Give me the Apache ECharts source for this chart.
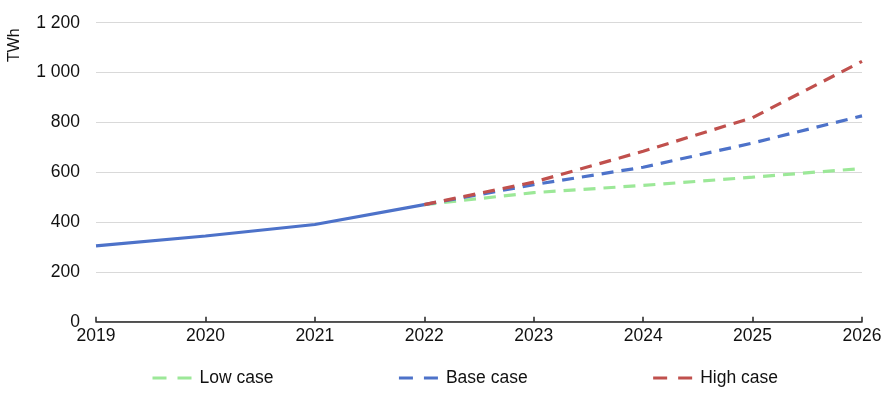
<!DOCTYPE html>
<html><head><meta charset="utf-8">
<script src="https://cdn.jsdelivr.net/npm/echarts@6/dist/echarts.min.js"></script>
<style>html,body{margin:0;padding:0;background:#fff}#c{width:890px;height:393px}</style>
</head><body><div id="c"></div>
<script>
const years = ['2019','2020','2021','2022','2023','2024','2025','2026'];
const historical = [304, 344, 390, 470, null, null, null, null];
const lowCase = [null, null, null, 470, 518, 547, 580, 615];
const baseCase = [null, null, null, 470, 550, 620, 717, 826];
const highCase = [null, null, null, 470, 560, 684, 819, 1045];
const yTicks = [0, 200, 400, 600, 800, 1000, 1200];

const chart = echarts.init(document.getElementById('c'));
const font = 'Liberation Sans, Arial, sans-serif';
const dash = [12, 8];
chart.setOption({
  animation: false,
  textStyle: {fontFamily: font},
  grid: {left: 96, right: 28, top: 22.7, bottom: 71.3},
  legend: {
    top: 364, left: 146, itemGap: 124, itemWidth: 40, itemHeight: 14,
    itemStyle: {opacity: 0},
    lineStyle: {width: 3, type: [14, 11]},
    textStyle: {fontSize: 17.5, color: '#111', fontFamily: font, padding: [0, 0, 0, 2]},
    data: ['Low case', 'Base case', 'High case']
  },
  xAxis: {
    type: 'category', data: years, boundaryGap: false,
    axisLine: {lineStyle: {color: '#222', width: 1.5}},
    axisTick: {show: true, inside: true, length: 5, lineStyle: {color: '#222', width: 1.5}},
    axisLabel: {fontSize: 17.5, color: '#111', margin: 5, fontFamily: font}
  },
  yAxis: {
    type: 'value', min: 0, max: 1200, interval: 200,
    axisLine: {show: false}, axisTick: {show: false},
    splitLine: {lineStyle: {color: '#d9d9d9', width: 1.2}},
    axisLabel: {fontSize: 17.5, color: '#111', margin: 16, fontFamily: font,
      formatter: v => yTicks.includes(v) ? String(v).replace(/\B(?=(\d{3})+(?!\d))/g, ' ') : ''}
  },
  graphic: [{type: 'text', x: 7, y: 62, rotation: Math.PI/2,
    style: {text: 'TWh', fontSize: 16, fill: '#111', fontFamily: font}}],
  series: [
    {name: 'Historical', type: 'line', data: historical, symbol: 'none', z: 1,
     lineStyle: {color: '#4d72c9', width: 3.2}, itemStyle: {color: '#4d72c9'}},
    {name: 'Low case', type: 'line', data: lowCase, symbol: 'none', z: 2,
     lineStyle: {color: '#9ce898', width: 3.2, type: dash}, itemStyle: {color: '#9ce898'}},
    {name: 'Base case', type: 'line', data: baseCase, symbol: 'none', z: 3,
     lineStyle: {color: '#4d72c9', width: 3.2, type: dash}, itemStyle: {color: '#4d72c9'}},
    {name: 'High case', type: 'line', data: highCase, symbol: 'none', z: 4,
     lineStyle: {color: '#c0504d', width: 3.2, type: dash}, itemStyle: {color: '#c0504d'}}
  ]
});
</script></body></html>
